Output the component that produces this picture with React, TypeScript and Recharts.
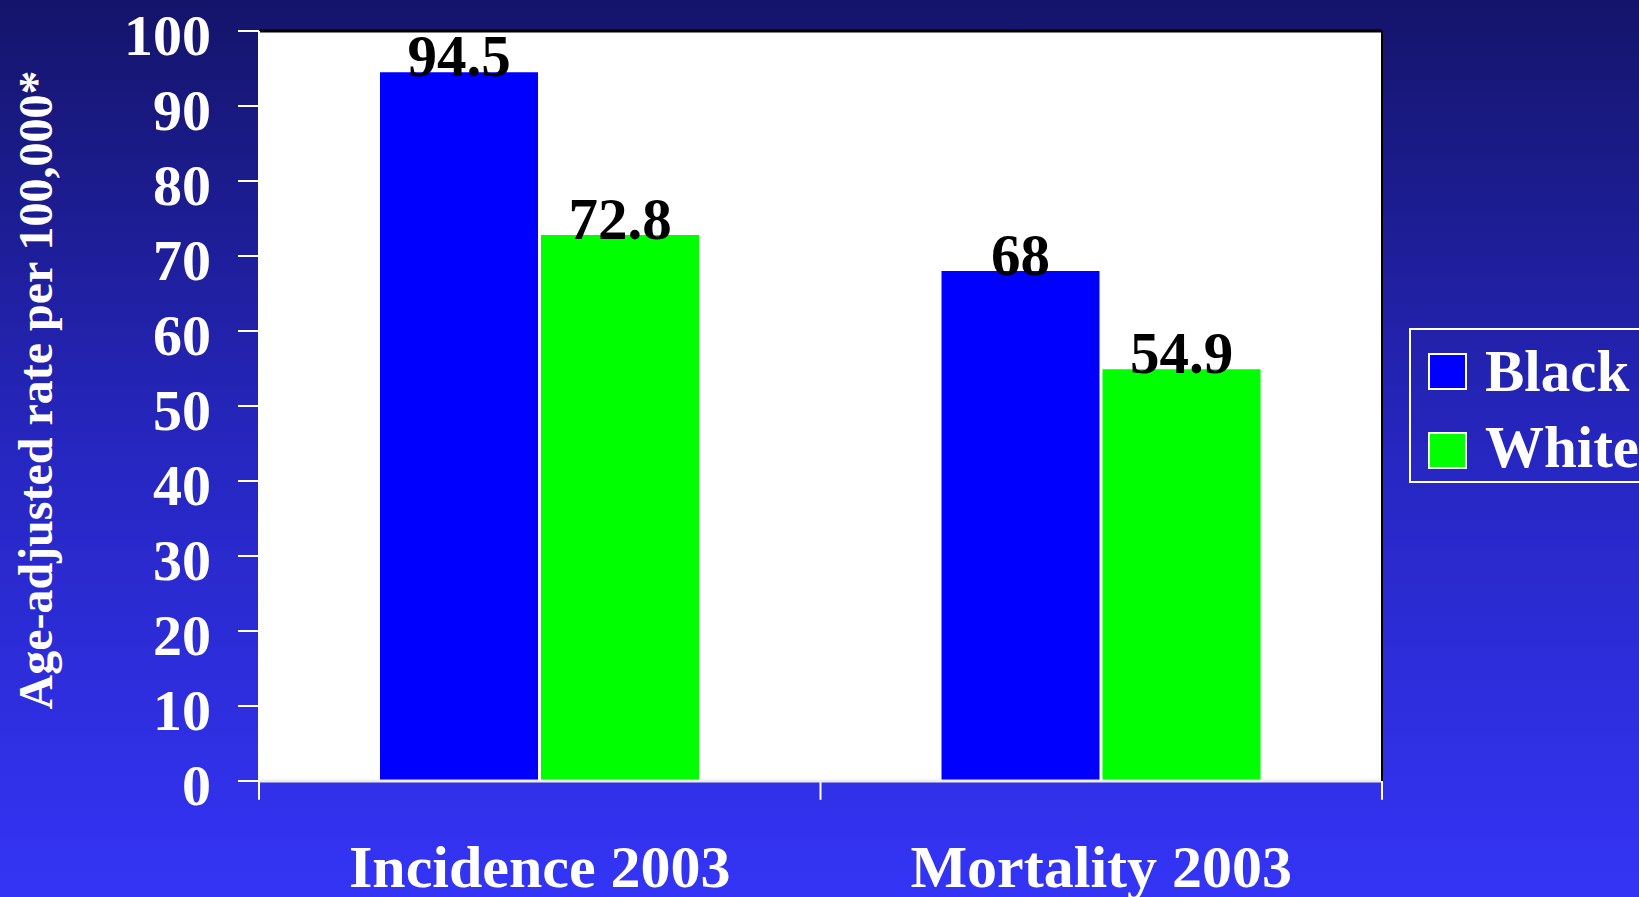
import React from 'react';
import { BarChart, Bar, XAxis, YAxis, CartesianGrid, LabelList, Legend, ReferenceLine } from 'recharts';

const categories = ['Incidence 2003', 'Mortality 2003'];
const blackValues = [94.5, 68];
const whiteValues = [72.8, 54.9];
const yTicks = [0, 10, 20, 30, 40, 50, 60, 70, 80, 90, 100];
const seriesNames = ['Black', 'White'];
const seriesColors = ['#0000ff', '#00ff00'];
const yAxisTitle = 'Age-adjusted rate per 100,000*';

const data = categories.map((c, i) => ({ name: c, black: blackValues[i], white: whiteValues[i] }));

const FONT = "'Liberation Serif', 'Times New Roman', serif";

const CategoryTick = (props: any) => {
  const { x, y, payload } = props;
  return (
    <text x={x} y={y} dy={106} textAnchor="middle" fill="#ffffff" fontFamily={FONT} fontWeight="bold" fontSize={60}>
      {payload.value}
    </text>
  );
};

const LegendContent = () => (
  <div style={{ position: 'relative', width: '100%', height: '100%', border: '2px solid #ffffff', boxSizing: 'border-box' }}>
    {seriesNames.map((n, i) => (
      <React.Fragment key={n}>
        <div style={{ position: 'absolute', left: 17, top: i === 0 ? 23 : 102, width: 39, height: 37, background: seriesColors[i], border: '2px solid #ffffff', boxSizing: 'border-box' }} />
        <div style={{ position: 'absolute', left: 74, top: i === 0 ? 23 : 99, lineHeight: '37px', height: 37, fontFamily: FONT, fontWeight: 'bold', fontSize: 59, color: '#ffffff', whiteSpace: 'nowrap' }}>{n}</div>
      </React.Fragment>
    ))}
  </div>
);

const YTitle = (props: any) => {
  const vb = props.viewBox || { x: 0, y: 31, width: 259, height: 750 };
  const cx = vb.x + 52;
  const cy = vb.y + vb.height / 2 - 16;
  return (
    <text x={cx} y={cy} textAnchor="middle" transform={`rotate(-90 ${cx} ${cy})`} fill="#ffffff" fontFamily={FONT} fontWeight="bold" fontSize={48}>
      {yAxisTitle}
    </text>
  );
};

export default function App() {
  return (
    <div style={{ position: 'absolute', left: 0, top: 0, width: 1639, height: 897, overflow: 'hidden', background: 'linear-gradient(to bottom, #14146a 0%, #2626c0 50%, #3434f6 100%)' }}>
      <BarChart width={1639} height={897} data={data} margin={{ top: 31, right: 256, bottom: 0, left: 0 }} barSize={158} barGap={3}>
        <CartesianGrid horizontal vertical={false} stroke="#000000" strokeWidth={2} fill="#ffffff" fillOpacity={1} />
        <XAxis dataKey="name" height={116} tickSize={0} tickMargin={0} tickLine={false} axisLine={{ stroke: '#eeeeee', strokeWidth: 3 }} tick={<CategoryTick />} interval={0} />
        <YAxis yAxisId="left" domain={[0, 100]} ticks={yTicks} width={259} tickSize={21} tickMargin={27} interval={0}
          axisLine={{ stroke: '#ffffff', strokeWidth: 2 }} tickLine={{ stroke: '#ffffff', strokeWidth: 2 }}
          tick={{ fill: '#ffffff', fontFamily: FONT, fontWeight: 'bold', fontSize: 58, dy: 3 }}
          label={{ content: <YTitle /> }} />
        <YAxis yAxisId="right" orientation="right" domain={[0, 100]} width={1} tick={false} tickLine={false} axisLine={{ stroke: '#000000', strokeWidth: 2 }} />
        <ReferenceLine yAxisId="left" y={100} stroke="#000000" strokeWidth={3} />
        <ReferenceLine yAxisId="left" position="start" segment={[{ x: categories[0], y: 0 }, { x: categories[0], y: -2.5 }]} stroke="#ffffff" strokeWidth={2} ifOverflow="visible" />
        <ReferenceLine yAxisId="left" position="start" segment={[{ x: categories[1], y: 0 }, { x: categories[1], y: -2.5 }]} stroke="#ffffff" strokeWidth={2} ifOverflow="visible" />
        <ReferenceLine yAxisId="left" position="end" segment={[{ x: categories[1], y: 0 }, { x: categories[1], y: -2.5 }]} stroke="#ffffff" strokeWidth={2} ifOverflow="visible" />
        <Legend layout="horizontal" align="center" verticalAlign="middle" content={<LegendContent />}
          wrapperStyle={{ position: 'absolute', left: 1409, top: 328, width: 260, height: 155 }} />
        <Bar yAxisId="left" dataKey="black" name={seriesNames[0]} fill={seriesColors[0]} isAnimationActive={false}>
          <LabelList dataKey="black" position="top" offset={-4} fill="#000000" fontFamily={FONT} fontWeight="bold" fontSize={59} />
        </Bar>
        <Bar yAxisId="left" dataKey="white" name={seriesNames[1]} fill={seriesColors[1]} isAnimationActive={false}>
          <LabelList dataKey="white" position="top" offset={-4} fill="#000000" fontFamily={FONT} fontWeight="bold" fontSize={59} />
        </Bar>
      </BarChart>
    </div>
  );
}
